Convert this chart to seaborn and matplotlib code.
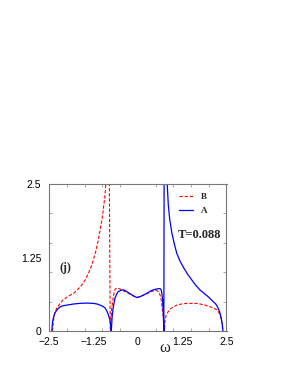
import matplotlib
matplotlib.use("Agg")
import matplotlib.pyplot as plt
import numpy as np
import pandas as pd
import seaborn as sns

# spectral functions (omega, value); values above 2.5 are clipped
omega_A = [-2.42, -2.40, -2.36, -2.33, -2.26, -2.19, -2.10, -2.00, -1.80, -1.63, -1.45, -1.26,
           -1.15, -1.06, -0.98, -0.92, -0.87, -0.83, -0.79, -0.77, -0.755,
           -0.745, -0.72, -0.70, -0.67, -0.64, -0.60, -0.55, -0.48, -0.41, -0.33, -0.26, -0.18,
           -0.10, -0.03, 0.05, 0.16, 0.28, 0.39, 0.50, 0.58, 0.63, 0.66, 0.68, 0.70, 0.72, 0.735,
           0.745, 0.76, 0.80, 0.83, 0.86, 0.90, 0.96, 1.03, 1.10, 1.19, 1.28, 1.40, 1.52, 1.63,
           1.75, 1.87, 1.99, 2.09, 2.18, 2.23, 2.27, 2.31, 2.35, 2.38, 2.40]
value_A = [0.00, 0.16, 0.26, 0.31, 0.37, 0.41, 0.43, 0.44, 0.46, 0.47, 0.475, 0.47,
           0.46, 0.44, 0.42, 0.39, 0.34, 0.28, 0.20, 0.13, 0.05,
           0.00, 0.25, 0.36, 0.47, 0.56, 0.62, 0.67, 0.69, 0.70, 0.68, 0.65, 0.62,
           0.59, 0.57, 0.58, 0.61, 0.65, 0.69, 0.71, 0.72, 0.72, 0.70, 0.64, 0.53, 0.30, 0.00,
           3.50, 3.50, 3.00, 2.50, 2.15, 1.90, 1.67, 1.48, 1.32, 1.19, 1.09, 0.97, 0.87, 0.78,
           0.70, 0.64, 0.58, 0.52, 0.47, 0.43, 0.38, 0.32, 0.22, 0.12, 0.00]

omega_B = [-2.40, -2.38, -2.34, -2.28, -2.20, -2.10, -1.96, -1.81, -1.70, -1.58, -1.48, -1.39,
           -1.32, -1.25, -1.18, -1.11, -1.06, -1.01, -0.98, -0.95, -0.92, -0.89, -0.87,
           -0.82, -0.80, -0.775,
           -0.76, -0.74, -0.70, -0.67, -0.64, -0.59, -0.52, -0.45, -0.36, -0.26, -0.16, -0.08,
           -0.03, 0.05, 0.16, 0.28, 0.39, 0.46, 0.53, 0.58, 0.63, 0.66, 0.68, 0.70, 0.72, 0.75,
           0.77, 0.80, 0.86, 0.93, 1.00, 1.10, 1.24, 1.38, 1.52, 1.64, 1.75, 1.90, 2.04, 2.14,
           2.23, 2.28, 2.32, 2.36, 2.40]
value_B = [0.00, 0.16, 0.30, 0.39, 0.46, 0.53, 0.59, 0.64, 0.70, 0.78, 0.87, 0.98,
           1.08, 1.21, 1.36, 1.55, 1.72, 1.89, 2.02, 2.17, 2.32, 2.60, 3.50,
           3.50, 2.50, 0.00,
           0.00, 0.35, 0.53, 0.64, 0.71, 0.73, 0.72, 0.70, 0.67, 0.64, 0.61, 0.58,
           0.57, 0.58, 0.61, 0.64, 0.67, 0.69, 0.69, 0.67, 0.61, 0.53, 0.44, 0.34, 0.24, 0.00,
           0.19, 0.27, 0.33, 0.38, 0.41, 0.44, 0.46, 0.47, 0.47, 0.47, 0.46, 0.44, 0.41, 0.39,
           0.36, 0.32, 0.27, 0.18, 0.00]

x_ticks = [-2.5, -1.25, 0, 1.25, 2.5]
x_tick_labels = ["\u22122.5", "\u22121.25", "0", "1.25", "2.5"]
y_ticks = [0, 1.25, 2.5]
y_tick_labels = ["0", "1.25", "2.5"]

df_A = pd.DataFrame({"omega": omega_A, "value": value_A})
df_B = pd.DataFrame({"omega": omega_B, "value": value_B})

sns.set_style("white")
plt.rcParams["font.family"] = ["Liberation Sans", "DejaVu Sans"]

fig = plt.figure(figsize=(2.89, 3.74), dpi=100)
ax = fig.add_axes([49 / 289, 43 / 374, 177.5 / 289, 147 / 374])

sns.lineplot(data=df_B, x="omega", y="value", sort=False, estimator=None, ax=ax,
             color="#ff0000", lw=0.8, dashes=False, label="B")
sns.lineplot(data=df_A, x="omega", y="value", sort=False, estimator=None, ax=ax,
             color="#0000ff", lw=0.9, label="A")
ax.lines[0].set_dashes((3, 1.6))

ax.set_xlim(-2.5, 2.5)
ax.set_ylim(0, 2.5)
ax.set_xticks(x_ticks)
ax.set_xticklabels(x_tick_labels)
ax.set_yticks(y_ticks)
ax.set_yticklabels(y_tick_labels)
ax.set_xticks(np.arange(-2.5, 2.51, 0.5), minor=True)
ax.set_yticks(np.arange(0, 2.51, 0.5), minor=True)
ax.tick_params(which="major", length=0, labelsize=7.5, colors="black")
ax.tick_params(axis="x", which="major", pad=4.5)
ax.tick_params(axis="y", which="major", pad=5.5)
ax.tick_params(which="minor", direction="in", length=2.5, width=0.5, color="#888888",
               top=True, right=True, bottom=True, left=True)
ax.set_ylabel("")
ax.set_xlabel("\u03c9", fontsize=12, family=["Liberation Serif"])
ax.xaxis.set_label_coords((165 - 49) / 177.5, (331 - 348) / 147)
ax.xaxis.label.set_va("center")
for s in ax.spines.values():
    s.set_color("#777777")
    s.set_linewidth(0.8)

ax.text(0.85, 0.655, "T=0.088", transform=ax.transAxes, ha="center", va="center",
        fontsize=9, fontweight="bold", family=["Liberation Serif"])
ax.text(0.09, 0.43, "(j)", transform=ax.transAxes, ha="center", va="center",
        fontsize=8.5, fontweight="bold", family=["Liberation Serif"])

ax.legend(loc="upper right", bbox_to_anchor=(0.91, 0.965), frameon=False,
          prop={"family": "Liberation Serif", "weight": "bold", "size": 6.5},
          handlelength=1.6, handletextpad=0.8, labelspacing=0.6, borderaxespad=0)

fig.savefig("out.png", dpi=100)
plt.close(fig)
